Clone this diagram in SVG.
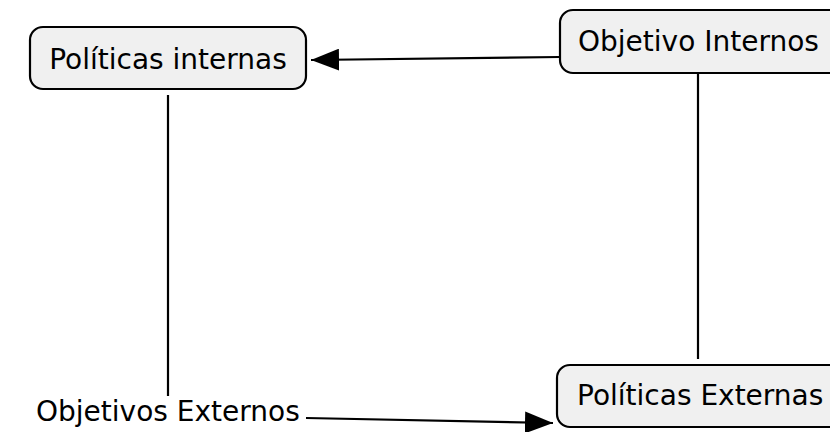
<svg xmlns="http://www.w3.org/2000/svg" width="830" height="432" viewBox="0 0 830 432">
<style>
.node rect{fill:#f0f0f0;stroke:#000;stroke-width:2.2}
text{font-family:"DejaVu Sans",Verdana,sans-serif;font-size:28px;fill:#000}
.conn line{stroke:#000;stroke-width:2.2;fill:none}
</style>
<defs>
<marker id="ah" viewBox="0 0 10 10" refX="10" refY="5" markerWidth="28" markerHeight="22" markerUnits="userSpaceOnUse" orient="auto" preserveAspectRatio="none">
<path d="M0,0 L10,5 L0,10 Z" fill="#000"/>
</marker>
</defs>
<rect width="830" height="432" fill="#fff"/>
<g class="conn">
<line x1="560" y1="57" x2="311" y2="60" marker-end="url(#ah)"/>
<line x1="168" y1="95" x2="168" y2="396"/>
<line x1="698" y1="73" x2="698" y2="359"/>
<line x1="306" y1="418" x2="553" y2="423" marker-end="url(#ah)"/>
</g>
<g id="politicas-internas" class="node">
<rect x="30" y="27" width="276" height="62" rx="13"/>
<text x="168" y="69" text-anchor="middle">Políticas internas</text>
</g>
<g id="objetivo-internos" class="node">
<rect x="560" y="10" width="290" height="63" rx="13"/>
<text x="578" y="51">Objetivo Internos</text>
</g>
<g id="politicas-externas" class="node">
<rect x="557" y="365" width="290" height="62" rx="13"/>
<text x="577" y="405">Políticas Externas</text>
</g>
<g id="objetivos-externos">
<text x="36" y="421">Objetivos Externos</text>
</g>
</svg>
